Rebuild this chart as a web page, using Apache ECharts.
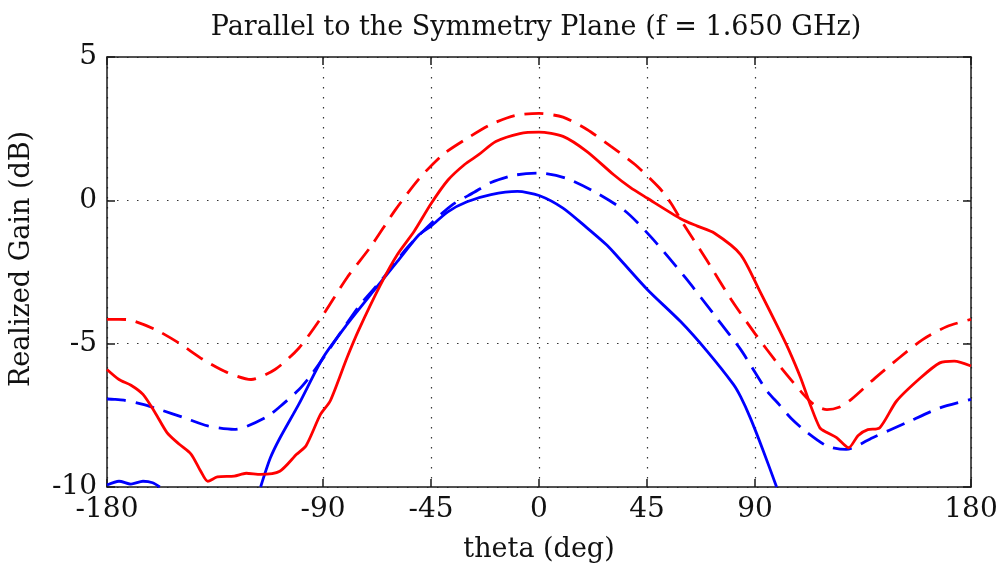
<!DOCTYPE html>
<html>
<head>
<meta charset="utf-8">
<script src="https://cdn.jsdelivr.net/npm/echarts@6/dist/echarts.min.js"></script>
<style>
  html, body { margin: 0; padding: 0; background: #ffffff; }
  #chart { width: 1005px; height: 576px; }
</style>
</head>
<body>
<div id="chart"></div>
<script>
// Realized gain cuts, parallel to the symmetry plane, f = 1.650 GHz
const titleText = 'Parallel to the Symmetry Plane (f = 1.650 GHz)';
const xTickValues = [-180, -90, -45, 0, 45, 90, 180];
const yTickValues = [-10, -5, 0, 5];

// red dashed
const redDashTheta = [-180, -175, -170, -160, -150, -140, -130, -120, -110, -100, -90, -80, -70, -60, -50, -40, -30, -20, -10, 0, 10, 20, 30, 40, 50, 55, 60, 70, 80, 90, 100, 110, 115, 120, 125, 130, 140, 150, 160, 170, 180];
const redDashGain  = [-4.15, -4.15, -4.18, -4.5, -4.98, -5.55, -6.0, -6.25, -5.9, -5.15, -4.0, -2.7, -1.6, -0.35, 0.75, 1.6, 2.16, 2.65, 2.96, 3.03, 2.9, 2.47, 1.88, 1.25, 0.45, -0.1, -0.8, -2.1, -3.45, -4.65, -5.75, -6.75, -7.15, -7.3, -7.22, -6.95, -6.2, -5.5, -4.85, -4.4, -4.15];

// red solid
const redSolidTheta = [-180, -175, -170, -165, -160, -155, -150, -145, -141, -138, -134, -127, -122, -116, -108, -101, -97, -91, -87, -80, -75, -66, -59, -52, -45, -38, -31, -25, -18, -8, 0, 10, 20, 31, 38, 45, 59, 66, 73, 84, 92, 100, 104, 109, 113, 117, 120, 124, 129, 133, 137, 142, 149, 159, 167, 173, 180];
const redSolidGain  = [-5.9, -6.25, -6.45, -6.77, -7.4, -8.1, -8.5, -8.85, -9.44, -9.8, -9.65, -9.62, -9.52, -9.56, -9.45, -8.86, -8.55, -7.46, -7.0, -5.49, -4.5, -2.94, -1.89, -1.08, -0.12, 0.7, 1.25, 1.6, 2.05, 2.33, 2.38, 2.23, 1.7, 0.9, 0.45, 0.08, -0.64, -0.9, -1.14, -1.89, -3.17, -4.5, -5.2, -6.19, -7.12, -7.93, -8.1, -8.28, -8.63, -8.2, -8.0, -7.93, -7.0, -6.19, -5.67, -5.61, -5.78];

// blue dashed
const blueDashTheta = [-180, -177, -173, -165, -158, -148, -138, -127, -123, -113, -108, -100, -95, -87, -75, -66, -55, -44, -36, -27, -20, -10, 0, 11, 22, 36, 47, 61, 74, 84, 90, 95, 100, 105, 111, 120, 128, 139, 153, 167, 180];
const blueDashGain  = [-6.93, -6.94, -6.97, -7.12, -7.3, -7.58, -7.87, -7.99, -7.93, -7.53, -7.2, -6.6, -6.1, -5.15, -3.69, -2.82, -1.66, -0.73, -0.15, 0.28, 0.62, 0.88, 0.95, 0.78, 0.35, -0.38, -1.31, -2.7, -4.1, -5.2, -6.0, -6.65, -7.12, -7.6, -8.05, -8.57, -8.69, -8.28, -7.76, -7.24, -6.94];

// blue solid (falls below the -10 dB floor between the two visible parts)
const blueSolidTheta = [-180, -175, -170, -165, -161, -158, -137, -116, -112, -108, -100, -90, -80, -69, -59, -50, -45, -38, -30, -20, -9, 0, 10, 20, 28, 31, 45, 59, 70, 81, 84, 88, 93.5, 99];
const blueSolidGain  = [-9.93, -9.8, -9.9, -9.8, -9.85, -10, null, -10, -9.0, -8.3, -7.1, -5.49, -4.33, -3.17, -2.13, -1.2, -0.9, -0.4, -0.05, 0.2, 0.31, 0.17, -0.27, -0.96, -1.54, -1.8, -3.1, -4.23, -5.26, -6.42, -6.85, -7.58, -8.75, -10];

const pairs = (xs, ys) => xs.map((x, i) => [x, ys[i]]);

const FONT = 'DejaVu Serif';
const TEXT = '#111111';
const FRAME = '#1a1a1a';
const gridDots = { show: true, lineStyle: { color: '#333', width: 1.2, type: [1.5, 8.5] } };

const chart = echarts.init(document.getElementById('chart'), null, { renderer: 'canvas' });

function lineSeries(name, data, color, dashed) {
  return {
    name: name,
    type: 'line',
    data: data,
    showSymbol: false,
    smooth: 0.25,
    connectNulls: false,
    clip: true,
    animation: false,
    lineStyle: { color: color, width: 2.8, type: dashed ? [19, 10] : 'solid' }
  };
}

chart.setOption({
  animation: false,
  backgroundColor: '#ffffff',
  title: {
    text: titleText,
    left: 531, top: 9, textAlign: 'center',
    textStyle: { fontFamily: FONT, fontSize: 27, fontWeight: 'normal', color: TEXT }
  },
  grid: { left: 107, right: 34, top: 57, bottom: 89, containLabel: false },
  xAxis: [
    {
      type: 'value', min: -180, max: 180, position: 'bottom',
      name: 'theta (deg)', nameLocation: 'middle', nameGap: 49,
      nameTextStyle: { fontFamily: FONT, fontSize: 27, color: TEXT },
      axisLine: { show: true, onZero: false, lineStyle: { color: FRAME, width: 1.5 } },
      axisTick: { show: true, inside: true, length: 8, customValues: xTickValues, lineStyle: { color: FRAME, width: 1.5 } },
      axisLabel: { customValues: xTickValues, margin: 9, fontFamily: FONT, fontSize: 28, color: TEXT },
      splitLine: { show: false }
    },
    {
      type: 'value', min: -180, max: 180, position: 'top',
      axisLine: { show: true, onZero: false, lineStyle: { color: FRAME, width: 1.5 } },
      axisTick: { show: true, inside: true, length: 8, customValues: xTickValues, lineStyle: { color: FRAME, width: 1.5 } },
      axisLabel: { show: false },
      splitLine: Object.assign({}, gridDots)
    }
  ],
  yAxis: [
    {
      type: 'value', min: -10, max: 5, interval: 5, position: 'left',
      name: 'Realized Gain (dB)', nameLocation: 'middle', nameGap: 72,
      nameTextStyle: { fontFamily: FONT, fontSize: 27, color: TEXT, padding: [0, 0, 0, 26] },
      axisLine: { show: true, onZero: false, lineStyle: { color: FRAME, width: 1.5 } },
      axisTick: { show: true, inside: true, length: 8, lineStyle: { color: FRAME, width: 1.5 } },
      axisLabel: { margin: 10, fontFamily: FONT, fontSize: 28, color: TEXT },
      splitLine: Object.assign({}, gridDots)
    },
    {
      type: 'value', min: -10, max: 5, interval: 5, position: 'right',
      axisLine: { show: true, onZero: false, lineStyle: { color: FRAME, width: 1.5 } },
      axisTick: { show: true, inside: true, length: 8, lineStyle: { color: FRAME, width: 1.5 } },
      axisLabel: { show: false },
      splitLine: { show: false }
    }
  ],
  series: [
    lineSeries('blue solid', pairs(blueSolidTheta, blueSolidGain), '#0000ff', false),
    lineSeries('blue dashed', pairs(blueDashTheta, blueDashGain), '#0000ff', true),
    lineSeries('red solid', pairs(redSolidTheta, redSolidGain), '#ff0000', false),
    lineSeries('red dashed', pairs(redDashTheta, redDashGain), '#ff0000', true)
  ]
});
</script>
</body>
</html>
